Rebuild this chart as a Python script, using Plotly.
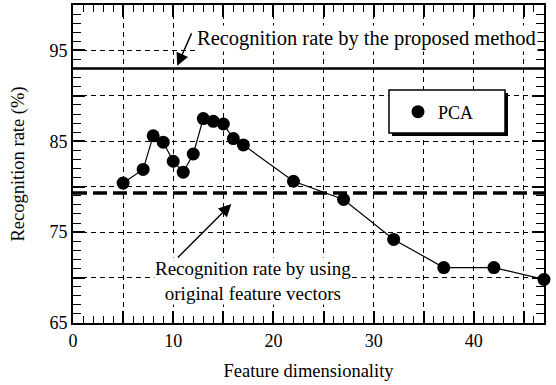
import plotly.graph_objects as go

# ---- data ----
dims = [5, 7, 8, 9, 10, 11, 12, 13, 14, 15, 16, 17, 22, 27, 32, 37, 42, 47]
pca_rate = [80.4, 81.9, 85.6, 84.9, 82.8, 81.6, 83.6, 87.5, 87.2, 86.9, 85.3, 84.6,
            80.6, 78.6, 74.2, 71.1, 71.1, 69.8]
proposed_rate = 93.0
original_rate = 79.3
x_tickvals = [0, 5, 10, 15, 20, 25, 30, 35, 40, 45]
x_ticktext = ["0", "", "10", "", "20", "", "30", "", "40", ""]
y_tickvals = [65, 70, 75, 80, 85, 90, 95, 100]
y_ticktext = ["65", "", "75", "", "85", "", "95", ""]

FONT = "Liberation Serif"

fig = go.Figure()

fig.add_trace(go.Scatter(x=dims, y=pca_rate, mode="lines", line=dict(color="black", width=1.2),
                         showlegend=False, hoverinfo="skip"))
fig.add_trace(go.Scatter(x=dims, y=pca_rate, mode="markers", name="PCA", cliponaxis=False,
                         marker=dict(color="black", size=13)))

fig.add_shape(type="line", xref="paper", x0=0, x1=1, y0=proposed_rate, y1=proposed_rate,
              line=dict(color="black", width=2.5))
fig.add_shape(type="line", xref="paper", x0=0, x1=1, y0=original_rate, y1=original_rate,
              line=dict(color="black", width=3.5, dash="14px,6px"))

# legend box with shadow (plot area: x 73..544, y 5..323)
PW, PH = 471.0, 318.0
def px_x(p):
    return (p - 73) / PW
def px_y(p):
    return (323 - p) / PH

fig.add_shape(type="rect", xref="paper", yref="paper", x0=px_x(392), x1=px_x(508),
              y0=px_y(136), y1=px_y(93), fillcolor="black", line=dict(width=0), layer="above")
fig.add_shape(type="rect", xref="paper", yref="paper", x0=px_x(389), x1=px_x(505),
              y0=px_y(133), y1=px_y(90), fillcolor="white",
              line=dict(color="black", width=1.5), layer="above")

fig.add_annotation(x=29.3, y=96.3, text="Recognition rate by the proposed method", showarrow=False,
                   font=dict(family=FONT, size=20.5, color="black"), bgcolor="white", borderpad=1)
fig.add_annotation(x=10.4, y=93.3, ax=15, ay=-34, text="", showarrow=True, arrowhead=2,
                   arrowsize=1.8, arrowwidth=1.4, arrowcolor="black")
fig.add_annotation(x=18.0, y=69.6, text="Recognition rate by using<br>original feature vectors",
                   showarrow=False, font=dict(family=FONT, size=19, color="black"),
                   bgcolor="white", borderpad=0)
fig.add_annotation(x=15.8, y=78.1, ax=-55, ay=55, text="", showarrow=True, arrowhead=2,
                   arrowsize=1.8, arrowwidth=1.4, arrowcolor="black")

axis_common = dict(showline=True, linecolor="black", linewidth=2, mirror="allticks",
                   ticks="inside", tickcolor="black", tickwidth=1.5, ticklen=12,
                   showgrid=True, gridcolor="black", gridwidth=1, griddash="5px,4px",
                   zeroline=False, automargin=False,
                   tickfont=dict(family=FONT, size=18, color="black"),
                   title_font=dict(family=FONT, size=18.5, color="black"))

fig.update_xaxes(range=[0, 47], tickmode="array", tickvals=x_tickvals, ticktext=x_ticktext,
                 title_text="Feature dimensionality", title_standoff=14,
                 minor=dict(dtick=1, ticks="inside", ticklen=7, tickcolor="black", tickwidth=1.2,
                            showgrid=False),
                 **axis_common)
fig.update_yaxes(range=[65, 100], tickmode="array", tickvals=y_tickvals, ticktext=y_ticktext,
                 title_text="Recognition rate (%)", title_standoff=20,
                 minor=dict(dtick=1, ticks="inside", ticklen=8, tickcolor="black", tickwidth=1.2,
                            showgrid=False),
                 **axis_common)

fig.update_layout(
    width=556, height=385,
    margin=dict(l=73, r=12, t=5, b=62),
    paper_bgcolor="white", plot_bgcolor="white",
    font=dict(family=FONT, color="black"),
    legend=dict(x=px_x(398), y=px_y(112), xanchor="left", yanchor="middle",
                bgcolor="rgba(0,0,0,0)", borderwidth=0,
                font=dict(family=FONT, size=18), itemwidth=30),
)

fig.write_html("out.html", config={"displayModeBar": False},
               post_script="document.body.style.margin='0';")
